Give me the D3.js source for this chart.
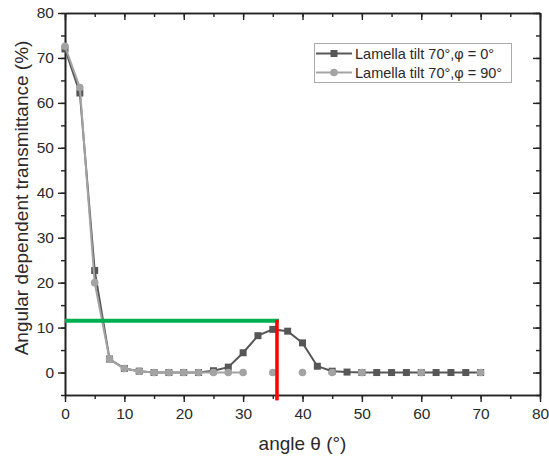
<!DOCTYPE html>
<html>
<head>
<meta charset="utf-8">
<script src="https://cdn.jsdelivr.net/npm/d3@7"></script>
<style>
  html, body { margin: 0; padding: 0; background: #fff; }
  svg { display: block; font-family: "Liberation Sans", Arial, sans-serif; }
</style>
</head>
<body>
<svg id="chart" width="549" height="456"></svg>
<script>
// Measurement angles (degrees), 2.5° steps
const angles = [0, 2.5, 5, 7.5, 10, 12.5, 15, 17.5, 20, 22.5, 25, 27.5, 30, 32.5, 35, 37.5,
  40, 42.5, 45, 47.5, 50, 52.5, 55, 57.5, 60, 62.5, 65, 67.5, 70];

// Lamella tilt 70°, φ = 0°
const tilt0 = [72, 62.2, 22.7, 3.0, 0.9, 0.3, 0, 0, 0, 0, 0.4, 1.2, 4.4, 8.2, 9.6, 9.2,
  6.6, 1.4, 0.3, 0.1, 0, 0, 0, 0, 0, 0, 0, 0, 0];

// Lamella tilt 70°, φ = 90° (null = not measured)
const tilt90 = [72.6, 63.4, 20, 3.0, 0.9, 0.3, 0, 0, 0, 0, 0, 0, 0, null, 0, null,
  0, null, 0, null, 0, null, null, null, 0, null, null, null, 0];

const seriesNames = ["Lamella tilt 70°,φ = 0°", "Lamella tilt 70°,φ = 90°"];
const xTicks = [0, 10, 20, 30, 40, 50, 60, 70, 80];
const yTicks = [0, 10, 20, 30, 40, 50, 60, 70, 80];

// Marker guide lines: peak angle and peak transmittance
const peakAngle = 35.7;
const peakLevel = 11.5;

const svg = d3.select("#chart");
const plotL = 65, plotR = 540, plotT = 13, plotB = 395;

const x = d3.scaleLinear().domain([0, 80]).range([plotL, plotR]);
const y = d3.scaleLinear().domain([-5, 80]).range([plotB, plotT]);

const axisColor = "#222";
const textColor = "#2a2a2a";

// axes: outward ticks on left/bottom, inward on right/top
const minorX = d3.range(0, 81, 5);
const minorY = d3.range(-5, 81, 5);

function styleAxis(g) {
  g.selectAll("path.domain").attr("stroke", axisColor).attr("stroke-width", 1.6);
  g.selectAll(".tick line").attr("stroke", axisColor).attr("stroke-width", 1.4);
  g.selectAll(".tick text").attr("fill", textColor).style("font-size", "15.5px");
}

// minor ticks
svg.append("g").attr("transform", `translate(0,${plotB})`)
  .call(d3.axisBottom(x).tickValues(minorX).tickSize(4).tickFormat("").tickSizeOuter(0))
  .call(styleAxis);
svg.append("g").attr("transform", `translate(0,${plotT})`)
  .call(d3.axisBottom(x).tickValues(minorX).tickSize(4).tickFormat("").tickSizeOuter(0))
  .call(styleAxis);
svg.append("g").attr("transform", `translate(${plotL},0)`)
  .call(d3.axisLeft(y).tickValues(minorY).tickSize(4).tickFormat("").tickSizeOuter(0))
  .call(styleAxis);
svg.append("g").attr("transform", `translate(${plotR},0)`)
  .call(d3.axisLeft(y).tickValues(minorY).tickSize(4).tickFormat("").tickSizeOuter(0))
  .call(styleAxis);

// major ticks with labels
svg.append("g").attr("transform", `translate(0,${plotB})`)
  .call(d3.axisBottom(x).tickValues(xTicks).tickSize(7).tickPadding(6).tickSizeOuter(0))
  .call(styleAxis);
svg.append("g").attr("transform", `translate(${plotL},0)`)
  .call(d3.axisLeft(y).tickValues(yTicks).tickSize(7).tickPadding(4).tickSizeOuter(0))
  .call(styleAxis);
svg.append("g").attr("transform", `translate(0,${plotT})`)
  .call(d3.axisBottom(x).tickValues(xTicks).tickSize(7).tickFormat("").tickSizeOuter(0))
  .call(styleAxis);
svg.append("g").attr("transform", `translate(${plotR},0)`)
  .call(d3.axisLeft(y).tickValues(yTicks).tickSize(7).tickFormat("").tickSizeOuter(0))
  .call(styleAxis);

// axis titles
svg.append("text")
  .attr("x", (plotL + plotR) / 2).attr("y", 450)
  .attr("text-anchor", "middle").attr("fill", textColor)
  .style("font-size", "19px")
  .text("angle θ (°)");
svg.append("text")
  .attr("transform", `translate(28,${(plotT + plotB) / 2 - 6}) rotate(-90)`)
  .attr("text-anchor", "middle").attr("fill", textColor)
  .style("font-size", "19px")
  .text("Angular dependent transmittance (%)");

const pts0 = angles.map((a, i) => ({ a, v: tilt0[i] }));
const pts90 = angles.map((a, i) => ({ a, v: tilt90[i] }));

const line = d3.line()
  .defined(d => d.v !== null)
  .x(d => x(d.a)).y(d => y(d.v));

const c0 = "#575757", c90 = "#a3a3a3";

// φ = 0° series (squares)
svg.append("path").datum(pts0)
  .attr("d", line).attr("fill", "none").attr("stroke", c0).attr("stroke-width", 2);
svg.append("g").selectAll("rect").data(pts0).join("rect")
  .attr("x", d => x(d.a) - 3.5).attr("y", d => y(d.v) - 3.5)
  .attr("width", 7).attr("height", 7).attr("fill", c0);

// φ = 90° series (circles)
svg.append("path").datum(pts90)
  .attr("d", line).attr("fill", "none").attr("stroke", c90).attr("stroke-width", 2);
svg.append("g").selectAll("circle").data(pts90.filter(d => d.v !== null)).join("circle")
  .attr("cx", d => x(d.a)).attr("cy", d => y(d.v))
  .attr("r", 3.8).attr("fill", c90);

// guide lines
svg.append("line")
  .attr("x1", x(0)).attr("x2", x(peakAngle) + 2)
  .attr("y1", y(peakLevel)).attr("y2", y(peakLevel))
  .attr("stroke", "#00b050").attr("stroke-width", 4);
svg.append("line")
  .attr("x1", x(peakAngle)).attr("x2", x(peakAngle))
  .attr("y1", y(peakLevel) - 1).attr("y2", y(-6.2))
  .attr("stroke", "#ff0000").attr("stroke-width", 3.5);

// legend
const lg = svg.append("g");
lg.append("rect").attr("x", 314.5).attr("y", 43.5).attr("width", 197).attr("height", 39)
  .attr("fill", "#fff").attr("stroke", "#aaa").attr("stroke-width", 1);
const legendItems = [
  { name: seriesNames[0], color: c0, shape: "square" },
  { name: seriesNames[1], color: c90, shape: "circle" }
];
legendItems.forEach((it, i) => {
  const cy = 53.5 + i * 19;
  lg.append("line").attr("x1", 316).attr("x2", 352).attr("y1", cy).attr("y2", cy)
    .attr("stroke", it.color).attr("stroke-width", 2);
  if (it.shape === "square") {
    lg.append("rect").attr("x", 334 - 3.5).attr("y", cy - 3.5).attr("width", 7).attr("height", 7)
      .attr("fill", it.color);
  } else {
    lg.append("circle").attr("cx", 334).attr("cy", cy).attr("r", 3.8).attr("fill", it.color);
  }
  lg.append("text").attr("x", 355).attr("y", cy + 5).attr("fill", textColor)
    .style("font-size", "14.5px").text(it.name);
});
</script>
</body>
</html>
